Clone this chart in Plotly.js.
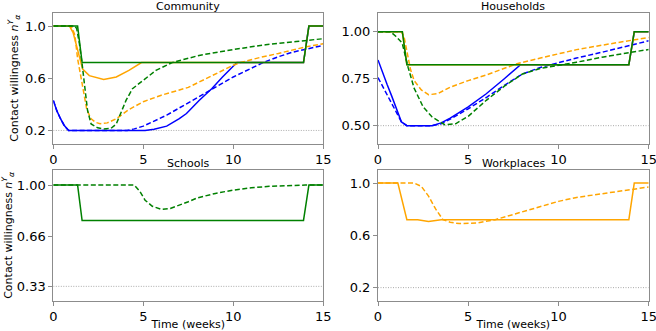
<!DOCTYPE html>
<html>
<head>
<meta charset="utf-8">
<script src="https://cdn.plot.ly/plotly-3.0.1.min.js"></script>
<style>
  body { margin: 0; background: #fff; }
  #chart { width: 656px; height: 331px; }
</style>
</head>
<body>
<div id="chart"></div>
<script>
// panel names and floor (dotted line) values
const panels = ['Community', 'Households', 'Schools', 'Workplaces'];
const floors = [0.2, 0.5, 0.33, 0.2];

// Community
const comBlueT   = [0, 0.2, 0.4, 0.6, 0.85, 5.1, 5.6, 6.3, 7.0, 7.4, 8.1, 8.8, 9.4, 10.2, 13.9, 14.2, 15];
const comBlueY   = [0.43, 0.35, 0.29, 0.24, 0.2, 0.2, 0.21, 0.233, 0.29, 0.33, 0.43, 0.52, 0.61, 0.72, 0.72, 1, 1];
const comBlueDT  = [0, 0.2, 0.4, 0.6, 0.85, 4.1, 4.5, 5.0, 6.3, 7.4, 8.7, 10.0, 11.65, 12.5, 13.3, 15];
const comBlueDY  = [0.43, 0.35, 0.29, 0.24, 0.2, 0.2, 0.212, 0.233, 0.317, 0.406, 0.51, 0.61, 0.72, 0.765, 0.80, 0.852];
const comOrT     = [0, 0.9, 1.1, 1.45, 1.63, 2.0, 2.56, 2.8, 3.5, 4.2, 4.9, 13.9, 14.2, 15];
const comOrY     = [1, 1, 0.95, 0.75, 0.67, 0.62, 0.597, 0.59, 0.61, 0.66, 0.72, 0.72, 1, 1];
const comOrDT    = [0, 1.0, 1.2, 1.35, 1.6, 1.86, 2.1, 2.35, 2.6, 3.0, 3.5, 4.2, 5, 6, 7.5, 9, 10, 10.4, 11.5, 12.5, 14, 15];
const comOrDY    = [1, 1, 0.93, 0.75, 0.56, 0.36, 0.29, 0.262, 0.252, 0.258, 0.29, 0.36, 0.42, 0.47, 0.53, 0.63, 0.70, 0.72, 0.76, 0.79, 0.84, 0.865];
const comGrT     = [0, 1.35, 1.6, 13.9, 14.2, 15];
const comGrY     = [1, 1, 0.72, 0.72, 1, 1];
const comGrDT    = [0, 1.2, 1.3, 1.45, 1.6, 1.73, 1.9, 2.1, 2.47, 2.8, 3.2, 3.5, 3.77, 4.04, 4.4, 5.0, 5.7, 6.6, 8.1, 10, 11.8, 13.5, 15];
const comGrDY    = [1, 1, 0.98, 0.865, 0.71, 0.56, 0.355, 0.25, 0.22, 0.212, 0.215, 0.25, 0.34, 0.43, 0.52, 0.585, 0.66, 0.72, 0.775, 0.82, 0.857, 0.882, 0.903];

// Households
const hhBlueT    = [0, 0.25, 0.5, 0.75, 1.0, 1.3, 1.6, 3.0, 3.5, 4, 5, 6, 7, 7.9, 13.9, 14.2, 15];
const hhBlueY    = [0.85, 0.78, 0.72, 0.66, 0.6, 0.52, 0.5, 0.5, 0.515, 0.54, 0.6, 0.67, 0.75, 0.825, 0.825, 1, 1];
const hhBlueDT   = [0, 0.25, 0.5, 0.75, 1.0, 1.3, 1.6, 3.0, 3.5, 4, 5, 6, 7, 8, 9, 10, 11, 12.5, 14, 15];
const hhBlueDY   = [0.756, 0.71, 0.67, 0.62, 0.573, 0.52, 0.5, 0.5, 0.51, 0.535, 0.59, 0.65, 0.715, 0.775, 0.81, 0.835, 0.86, 0.893, 0.93, 0.952];
const hhOrT      = [0, 1.35, 1.6, 13.9, 14.2, 15];
const hhOrY      = [1, 1, 0.825, 0.825, 1, 1];
const hhOrDT     = [0, 1.3, 1.45, 1.6, 1.8, 2.0, 2.4, 2.8, 3.3, 4, 5, 6, 7.7, 9, 10, 11, 12.5, 14, 15];
const hhOrDY     = [1, 1, 0.97, 0.9, 0.8, 0.74, 0.69, 0.665, 0.67, 0.705, 0.74, 0.77, 0.83, 0.86, 0.884, 0.905, 0.93, 0.955, 0.97];
const hhGrT      = [0, 1.35, 1.6, 13.9, 14.2, 15];
const hhGrY      = [1, 1, 0.825, 0.825, 1, 1];
const hhGrDT     = [0, 0.7, 1.0, 1.34, 1.67, 2.0, 2.5, 3.0, 3.7, 4.3, 5, 6, 7, 8, 9, 10, 11, 12.5, 14, 15];
const hhGrDY     = [1, 1, 0.975, 0.94, 0.81, 0.70, 0.60, 0.546, 0.505, 0.51, 0.55, 0.635, 0.71, 0.775, 0.805, 0.82, 0.838, 0.866, 0.89, 0.906];

// Schools
const scGrT      = [0, 1.35, 1.6, 13.9, 14.2, 15];
const scGrY      = [1, 1, 0.766, 0.766, 1, 1];
const scGrDT     = [0, 4.5, 4.8, 5.1, 5.5, 6.0, 6.5, 7, 7.5, 8, 9, 10, 11, 12, 13, 14, 15];
const scGrDY     = [1, 1, 0.96, 0.9, 0.86, 0.84, 0.845, 0.865, 0.89, 0.915, 0.945, 0.967, 0.982, 0.992, 0.998, 1, 1];

// Workplaces
const wpOrT      = [0, 1.1, 1.6, 2.2, 2.8, 3.5, 13.9, 14.2, 15];
const wpOrY      = [1, 1, 0.72, 0.72, 0.707, 0.72, 0.72, 1, 1];
const wpOrDT     = [0, 2.0, 2.4, 2.8, 3.2, 3.6, 4.0, 4.5, 5.5, 6.5, 7.5, 8.5, 10, 11, 12.5, 14, 15];
const wpOrDY     = [1, 1, 0.975, 0.9, 0.8, 0.72, 0.7, 0.69, 0.695, 0.72, 0.76, 0.80, 0.86, 0.89, 0.92, 0.95, 0.97];

// y tick labels per panel
const yTicks = [
  ['0.2', '0.6', '1.0'],
  ['0.50', '0.75', '1.00'],
  ['0.33', '0.66', '1.00'],
  ['0.2', '0.6', '1.0']
];
const xTicks = [0, 5, 10, 15];

const BLUE = '#0000ff', ORANGE = '#ffa500', GREEN = '#008000';
const DASH = '5px,2.5px';

function line(ax, x, y, color, dashed) {
  return {
    x: x, y: y, xaxis: 'x' + ax, yaxis: 'y' + ax,
    type: 'scatter', mode: 'lines', hoverinfo: 'skip',
    line: { color: color, width: 1.5, dash: dashed ? DASH : 'solid' }
  };
}

const traces = [];
floors.forEach((f, i) => {
  traces.push({
    x: [0, 15], y: [f, f], xaxis: 'x' + (i + 1), yaxis: 'y' + (i + 1),
    type: 'scatter', mode: 'lines', hoverinfo: 'skip',
    line: { color: '#aaaaaa', width: 1, dash: '1px,1.5px' }
  });
});

traces.push(
  line(1, comBlueT, comBlueY, BLUE, false),
  line(1, comBlueDT, comBlueDY, BLUE, true),
  line(1, comOrT, comOrY, ORANGE, false),
  line(1, comOrDT, comOrDY, ORANGE, true),
  line(1, comGrT, comGrY, GREEN, false),
  line(1, comGrDT, comGrDY, GREEN, true),

  line(2, hhBlueT, hhBlueY, BLUE, false),
  line(2, hhBlueDT, hhBlueDY, BLUE, true),
  line(2, hhOrT, hhOrY, ORANGE, false),
  line(2, hhOrDT, hhOrDY, ORANGE, true),
  line(2, hhGrT, hhGrY, GREEN, false),
  line(2, hhGrDT, hhGrDY, GREEN, true),

  line(3, scGrT, scGrY, GREEN, false),
  line(3, scGrDT, scGrDY, GREEN, true),

  line(4, wpOrT, wpOrY, ORANGE, false),
  line(4, wpOrDT, wpOrDY, ORANGE, true)
);

// panel boxes in pixels
const W = 656, H = 331;
const colX = [[53.3, 323.3], [378, 648.7]];
const rowY = [[13, 143.5], [170, 300.7]];
const yRanges = [[0.1, 1.1], [0.405, 1.1], [0.235, 1.1], [0.1, 1.1]];

const titleFont = { family: 'DejaVu Sans', size: 11, color: '#000' };

const axisStyle = {
  showline: true, mirror: true, linecolor: '#8c8c8c', linewidth: 1,
  showgrid: false, zeroline: false,
  ticks: 'outside', ticklen: 4, tickcolor: '#8c8c8c', tickwidth: 1,
  tickfont: { family: 'DejaVu Sans', size: 13, color: '#000' },
  ticklabeloverflow: 'allow',
  automargin: false, fixedrange: true
};

const layout = {
  width: W, height: H,
  margin: { l: 0, r: 0, t: 0, b: 0 },
  showlegend: false,
  paper_bgcolor: '#fff', plot_bgcolor: '#fff',
  font: { family: 'DejaVu Sans', color: '#000' },
  annotations: [],
  hovermode: false
};

panels.forEach((name, i) => {
  const col = i % 2, row = Math.floor(i / 2);
  const n = i + 1;
  const xd = [colX[col][0] / W, colX[col][1] / W];
  const yd = [1 - rowY[row][1] / H, 1 - rowY[row][0] / H];
  layout['xaxis' + n] = Object.assign({}, axisStyle, {
    domain: xd, range: [0, 15], anchor: 'y' + n,
    tickvals: xTicks,
    title: row === 1 ? { text: 'Time (weeks)', font: titleFont, standoff: 1 } : { text: '' }
  });
  const tv = yTicks[i].map(Number);
  layout['yaxis' + n] = Object.assign({}, axisStyle, {
    domain: yd, range: yRanges[i], anchor: 'x' + n,
    tickvals: tv, ticktext: yTicks[i],
    title: col === 0
      ? { text: 'Contact willingness <i>n</i><sup><i>Y</i></sup><sub><i>α</i></sub>', font: titleFont, standoff: 4 }
      : { text: '' }
  });
  // panel title
  layout.annotations.push({
    text: name, showarrow: false,
    xref: 'paper', yref: 'paper',
    x: (xd[0] + xd[1]) / 2, y: yd[1],
    xanchor: 'center', yanchor: 'bottom', yshift: -2,
    font: titleFont
  });
});

Plotly.newPlot('chart', traces, layout, { staticPlot: true, displayModeBar: false });
</script>
</body>
</html>
